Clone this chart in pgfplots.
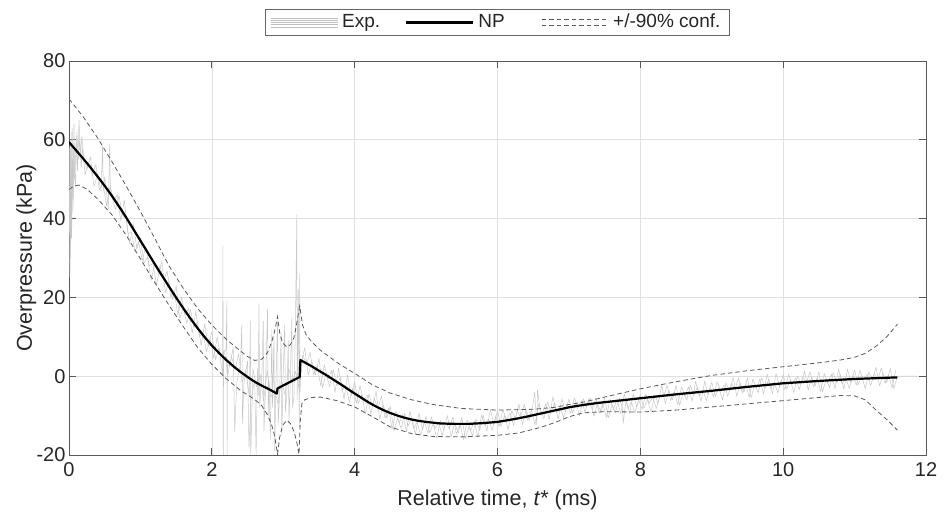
\documentclass[border=0pt]{standalone}
\usepackage{pgfplots}
\pgfplotsset{compat=1.18}
\usepackage{fontspec}
\setmainfont{Liberation Sans}
\begin{document}
\begin{tikzpicture}
\path[use as bounding box] (0,0) rectangle (944bp,514bp);
\begin{axis}[
  at={(69bp,59bp)}, anchor=south west,
  scale only axis, width=857bp, height=394bp,
  xmin=0, xmax=12, ymin=-20, ymax=80,
  xtick={0,2,4,6,8,10,12}, xticklabels={0,2,4,6,8,10,12},
  ytick={-20,0,20,40,60,80}, yticklabels={-20,0,20,40,60,80},
  tick align=inside, major tick length=7bp,
  xtick pos=both, ytick pos=both,
  grid=major, major grid style={black!12, line width=0.6bp},
  axis line style={black!65, line width=0.8bp},
  every tick/.style={black!65, line width=0.8bp},
  tick label style={font=\fontsize{20bp}{24bp}\selectfont, text=black!85},
  xticklabel style={yshift=-4bp},
  xlabel={Relative time, \textit{t}* (ms)},
  ylabel={Overpressure (kPa)},
  label style={font=\fontsize{21.5bp}{26bp}\selectfont, text=black!85},
  xlabel style={at={(axis description cs:0.5,-0.1294)}, anchor=base},
  ylabel style={at={(axis description cs:-0.0432,0.5)}, anchor=base, rotate=0},
  legend columns=3,
  legend image code/.code={\draw[#1] (0bp,0bp) -- (67bp,0bp);},
  legend style={at={(0.5,1)}, anchor=south, yshift=25bp,
    draw=black!60, line width=0.8bp, fill=white,
    inner xsep=5bp, inner ysep=4bp, column sep=0bp,
    font=\fontsize{19bp}{22bp}\selectfont,
    nodes={inner xsep=4bp, inner ysep=0bp, text height=14bp, text depth=4bp, text=black!85}},
  legend cell align=left,
  exp legend/.style={legend image code/.code={\foreach \yy in {-4.4,-2.2,0,2.2,4.4}{\draw[black!25, line width=0.6bp] (0bp,\yy bp) -- (67bp,\yy bp);}}},
  conf legend/.style={legend image code/.code={\draw[black!65, line width=0.8bp, dash pattern=on 4.5bp off 3bp] (0bp,3bp) -- (67bp,3bp); \draw[black!65, line width=0.8bp, dash pattern=on 4.5bp off 3bp] (0bp,-3bp) -- (67bp,-3bp);}},
]
% Experimental trace A
\addplot[black!22, line width=0.5bp, line join=round, exp legend]
coordinates {
(0.00,25) (0.01,58) (0.02,30) (0.03,62) (0.04,38) (0.05,55) (0.06,45) (0.07,64) (0.08,50) (0.10,60) (0.12,52) (0.14,65) (0.16,56) (0.18,61)
(0.20,56.4) (0.25,52.5) (0.30,55.7) (0.35,48.1) (0.40,51.2) (0.45,47.0) (0.47,58.5) (0.48,47.0) (0.50,50.6) (0.55,42.5) (0.57,59) (0.58,46) (0.60,45.6)
(0.65,42.3) (0.70,45.8) (0.75,40.8) (0.80,40.1) (0.85,33.6) (0.90,38.7) (0.95,32.5) (1.00,35.1) (1.05,28.7) (1.10,30.2) (1.15,24.3) (1.20,28.5)
(1.25,26.3) (1.30,29.2) (1.35,21.2) (1.40,24.0) (1.45,19.5) (1.50,22.9) (1.55,14.6) (1.60,17.4) (1.65,13.4) (1.70,17.0) (1.75,12.3) (1.80,13.8)
(1.85,7.7) (1.90,13.3) (1.95,7.6) (2.00,11.3) (2.05,4.2) (2.10,7.1) (2.15,0.6) (2.155,33) (2.16,-20) (2.165,6) (2.20,6.8) (2.21,19) (2.215,-20) (2.22,3)
(2.25,2.6) (2.30,7.2) (2.32,-14) (2.35,-1.6) (2.40,2.9) (2.42,13) (2.43,-12) (2.45,-1.6) (2.50,3.8) (2.52,-18) (2.55,-5.6) (2.60,-1.0) (2.62,-20) (2.64,2)
(2.65,-4.9) (2.66,18.5) (2.67,-8) (2.70,0.8) (2.72,14) (2.73,-14) (2.75,-4.0) (2.78,17) (2.79,-10) (2.80,-1.1) (2.82,-16) (2.84,12) (2.85,-7.9) (2.87,10) (2.88,-19)
(2.90,0.1) (2.92,14) (2.93,-12) (2.95,-4.3) (2.97,11) (2.98,-15) (3.00,1.3) (3.02,13) (3.03,-9) (3.05,-4.5) (3.07,9) (3.08,-12) (3.10,-0.1) (3.12,15) (3.13,-8)
(3.15,-5.3) (3.17,12) (3.19,41) (3.195,-6) (3.20,2.2) (3.21,22) (3.225,-13) (3.23,26) (3.235,-4) (3.25,3.4) (3.30,7.2)
(3.35,0.2) (3.40,3.9) (3.45,0.3) (3.50,4.5) (3.55,-3.0) (3.60,0.7) (3.65,-2.7) (3.70,1.7) (3.75,-2.4) (3.80,-0.2) (3.85,-5.8) (3.90,0.3) (3.95,-5.0)
(4.00,-1.5) (4.05,-7.0) (4.10,-4.6) (4.15,-9.6) (4.20,-4.5) (4.25,-7.8) (4.30,-3.9) (4.35,-10.9) (4.40,-7.2) (4.45,-10.6) (4.50,-7.7) (4.55,-13.9)
(4.60,-10.7) (4.65,-13.3) (4.70,-9.4) (4.75,-12.6) (4.80,-10.5) (4.85,-14.9) (4.90,-9.4) (4.95,-13.5) (5.00,-10.2) (5.05,-14.4) (5.10,-12.0) (5.15,-15.8)
(5.20,-11.2) (5.25,-13.6) (5.30,-10.0) (5.35,-15.4) (5.40,-11.9) (5.45,-14.5) (5.50,-10.5) (5.55,-15.9) (5.60,-12.8) (5.65,-15.1) (5.70,-10.9) (5.75,-13.8)
(5.80,-9.9) (5.85,-14.0) (5.90,-8.4) (5.95,-12.2) (6.00,-8.7) (6.05,-12.7) (6.10,-10.0) (6.15,-13.6) (6.20,-8.7) (6.25,-10.8) (6.30,-7.1) (6.35,-12.3)
(6.40,-8.6) (6.45,-11.0) (6.50,-6.8) (6.52,-4.0) (6.55,-12.4) (6.56,-3.5) (6.60,-8.7) (6.65,-10.8) (6.70,-6.5) (6.75,-9.2) (6.80,-6.7) (6.85,-10.9)
(6.90,-5.7) (6.95,-9.0) (7.00,-5.8) (7.05,-9.3) (7.10,-6.9) (7.15,-10.1) (7.20,-5.7) (7.25,-7.7) (7.30,-5.5) (7.35,-10.2) (7.40,-6.9) (7.45,-9.2)
(7.50,-5.5) (7.55,-10.6) (7.60,-7.3) (7.65,-9.3) (7.70,-5.5) (7.75,-8.0) (7.76,-12) (7.80,-5.9) (7.85,-9.5) (7.90,-4.4) (7.95,-7.8) (8.00,-4.6)
(8.05,-8.2) (8.10,-5.9) (8.15,-9.1) (8.20,-4.8) (8.25,-6.8) (8.30,-2.2) (8.35,-7.0) (8.40,-3.7) (8.45,-6.0) (8.50,-2.3) (8.55,-7.4) (8.60,-4.1)
(8.65,-6.1) (8.70,-2.3) (8.75,-4.8) (8.80,-2.7) (8.85,-6.4) (8.90,-1.3) (8.95,-4.7) (9.00,-1.5) (9.05,-5.1) (9.10,-2.8) (9.15,-6.0) (9.20,-1.7)
(9.25,-3.7) (9.30,-0.3) (9.35,-5.1) (9.40,-1.8) (9.45,-4.1) (9.50,-0.4) (9.55,-5.5) (9.60,-2.2) (9.65,-4.2) (9.70,-0.4) (9.75,-3.0) (9.80,-0.8)
(9.85,-4.5) (9.90,0.7) (9.95,-2.8) (10.00,0.4) (10.05,-3.3) (10.10,-1.0) (10.15,-4.2) (10.20,0.1) (10.25,-2.0) (10.30,1.3) (10.35,-3.5) (10.40,-0.2)
(10.45,-2.5) (10.50,1.1) (10.55,-4.0) (10.60,-0.9) (10.65,-2.9) (10.70,0.9) (10.75,-1.7) (10.80,0.5) (10.85,-3.3) (10.90,1.8) (10.95,-1.7) (11.00,1.5)
(11.05,-2.2) (11.10,0.1) (11.15,-3.2) (11.20,1.1) (11.25,-1.0) (11.30,2.3) (11.35,-2.5) (11.40,0.7) (11.45,-1.7) (11.50,2.0) (11.55,-3.2) (11.60,0) (11.88,0)
};
\addlegendentry{\makebox[59bp][l]{Exp.}}
% Experimental trace B
\addplot[black!22, line width=0.5bp, line join=round, forget plot] coordinates {
(0.005,48) (0.015,26) (0.025,60) (0.035,35) (0.045,63) (0.055,42) (0.065,57) (0.09,48) (0.11,62) (0.13,55) (0.15,60) (0.17,53) (0.19,58)
(0.225,51.1) (0.275,54.2) (0.325,51.1) (0.375,53.7) (0.425,47.3) (0.475,49.2) (0.525,43.3) (0.575,48.2) (0.625,44.6) (0.675,46.0) (0.725,39.5)
(0.775,44.8) (0.825,36.1) (0.875,36.6) (0.925,31.4) (0.975,34.2) (1.025,29.3) (1.075,32.9) (1.125,28.0) (1.175,28.6) (1.225,23.1) (1.275,27.9)
(1.325,24.3) (1.375,26.7) (1.425,20.0) (1.475,21.6) (1.525,15.5) (1.575,20.1) (1.625,15.6) (1.675,17.1) (1.725,10.9) (1.775,16.3) (1.825,10.0)
(1.875,11.0) (1.925,6.2) (1.975,9.45) (2.025,4.55) (2.075,9.95) (2.125,4.85) (2.175,6.5) (2.225,0.55) (2.275,5.05) (2.325,1.75) (2.375,5.7)
(2.425,-1.6) (2.475,1.55) (2.525,-5.0) (2.54,14) (2.545,-20) (2.575,1.9) (2.625,-2.7) (2.675,0.45) (2.725,-6.35) (2.775,1.6) (2.825,-5.35)
(2.875,-3.3) (2.925,-6.9) (2.975,-1.1) (3.025,-4.8) (3.075,2.0) (3.125,-1.75) (3.175,1.25) (3.225,-3.45) (3.275,5.4) (3.325,2.9) (3.375,6.1)
(3.425,0.3) (3.475,2.8) (3.525,-2.5) (3.575,2.95) (3.625,-0.85) (3.675,1.45) (3.725,-4.1) (3.775,2.0) (3.825,-3.75) (3.875,-2.3) (3.925,-6.6)
(3.975,-2.9) (4.025,-6.85) (4.075,-2.4) (4.125,-6.3) (4.175,-4.85) (4.225,-9.5) (4.275,-5.7) (4.325,-8.25) (4.375,-5.0) (4.425,-10.7) (4.475,-8.0)
(4.525,-13.5) (4.575,-8.8) (4.625,-11.8) (4.675,-9.7) (4.725,-14.1) (4.775,-8.8) (4.825,-13.3) (4.875,-11.7) (4.925,-15.0) (4.975,-11.5)
(5.025,-14.45) (5.075,-10.35) (5.125,-13.25) (5.175,-11.65) (5.225,-15.1) (5.275,-11.7) (5.325,-13.4) (5.375,-10.3) (5.425,-14.7) (5.475,-12.2)
(5.525,-16.1) (5.575,-11.1) (5.625,-13.8) (5.675,-11.3) (5.725,-15.5) (5.775,-9.8) (5.825,-12.55) (5.875,-10.8) (5.925,-13.8) (5.975,-10.15)
(6.025,-12.8) (6.075,-8.5) (6.125,-11.1) (6.175,-9.3) (6.225,-12.5) (6.275,-8.8) (6.325,-10.4) (6.375,-7.1) (6.425,-11.3) (6.475,-8.6)
(6.525,-12.3) (6.575,-7.1) (6.625,-9.6) (6.675,-7.0) (6.725,-11.0) (6.775,-5.2) (6.825,-9.3) (6.875,-7.95) (6.925,-10.5) (6.975,-7.1)
(7.025,-9.4) (7.075,-5.5) (7.125,-7.9) (7.175,-6.2) (7.225,-9.1) (7.275,-5.8) (7.325,-8.5) (7.375,-5.6) (7.425,-9.4) (7.475,-7.0)
(7.525,-10.45) (7.575,-5.85) (7.625,-8.2) (7.675,-5.9) (7.725,-9.6) (7.775,-4.5) (7.825,-8.2) (7.875,-6.6) (7.925,-9.3) (7.975,-6.0)
(8.025,-8.4) (8.075,-4.5) (8.125,-6.9) (8.175,-5.3) (8.225,-8.2) (8.275,-5.0) (8.325,-5.2) (8.375,-2.3) (8.425,-6.2) (8.475,-3.85)
(8.525,-7.25) (8.575,-2.65) (8.625,-5.0) (8.675,-2.7) (8.725,-6.4) (8.775,-1.3) (8.825,-5.1) (8.875,-3.45) (8.925,-6.2) (8.975,-2.85)
(9.025,-5.3) (9.075,-1.4) (9.125,-3.8) (9.175,-2.2) (9.225,-5.1) (9.275,-1.9) (9.325,-3.3) (9.375,-0.4) (9.425,-4.3) (9.475,-1.95)
(9.525,-5.35) (9.575,-0.75) (9.625,-3.1) (9.675,-0.8) (9.725,-4.55) (9.775,0.6) (9.825,-3.2) (9.875,-1.55) (9.925,-4.25) (9.975,-0.95)
(10.025,-3.4) (10.075,0.45) (10.125,-2.0) (10.175,-0.4) (10.225,-3.4) (10.275,-0.2) (10.325,-1.7) (10.375,1.15) (10.425,-2.75) (10.475,-0.4)
(10.525,-3.85) (10.575,0.7) (10.625,-1.7) (10.675,0.55) (10.725,-3.2) (10.775,1.9) (10.825,-1.9) (10.875,-0.35) (10.925,-3.1) (10.975,0.2)
(11.025,-2.3) (11.075,1.5) (11.125,-0.95) (11.175,0.55) (11.225,-2.45) (11.275,0.75) (11.325,-0.8) (11.375,2.1) (11.425,-1.85) (11.475,0.45)
(11.525,-3.0) (11.575,1.5)
};
% NP model
\addplot[black, line width=2.2bp, line join=round] coordinates {
(0,59.4)(0.1,57.3)(0.2,55.2)(0.3,53.0)(0.4,50.7)(0.5,48.3)(0.6,45.8)(0.7,43.1)(0.8,40.3)(0.9,37.35)(1.0,34.4)(1.1,31.45)(1.2,28.5)
(1.3,25.6)(1.4,22.75)(1.5,19.95)(1.6,17.25)(1.7,14.65)(1.8,12.2)(1.9,9.9)(2.0,7.8)(2.1,5.9)(2.2,4.15)(2.3,2.55)(2.4,1.1)(2.5,-0.2)(2.6,-1.4)
(2.7,-2.4)(2.8,-3.3)(2.91,-4.4)(2.92,-3.1)(3.23,-0.2)(3.24,4.1)(3.3,3.5)(3.4,2.5)(3.5,1.4)(3.6,0.3)(3.7,-0.85)(3.8,-2.0)(3.9,-3.2)(4.0,-4.4)
(4.1,-5.55)(4.2,-6.7)(4.3,-7.7)(4.4,-8.6)(4.5,-9.35)(4.6,-10.0)(4.7,-10.55)(4.8,-11.0)(4.9,-11.35)(5.0,-11.6)(5.2,-12.0)(5.4,-12.1)(5.6,-12.1)
(5.8,-11.9)(6.0,-11.6)(6.2,-11.0)(6.4,-10.3)(6.6,-9.5)(6.8,-8.7)(7.0,-7.9)(7.2,-7.3)(7.4,-6.8)(7.6,-6.4)(7.8,-6.0)(8.0,-5.6)(8.5,-4.6)
(9.0,-3.7)(9.5,-2.7)(10.0,-1.8)(10.5,-1.2)(11.0,-0.7)(11.3,-0.5)(11.6,-0.3)
};
\addlegendentry{\makebox[59bp][l]{NP}}
% upper 90% bound
\addplot[black!65, line width=0.8bp, dash pattern=on 4.5bp off 3bp, conf legend] coordinates {
(0,70.4)(0.2,65.8)(0.4,60.5)(0.6,54.5)(0.8,48.3)(1.0,41.8)(1.2,35.0)(1.4,28.0)(1.6,22.3)(1.8,17.2)(2.0,13.0)(2.2,9.4)(2.4,6.4)(2.5,5.0)
(2.6,4.0)(2.7,4.3)(2.78,6.0)(2.84,8.8)(2.88,11.5)(2.92,15.1)(2.95,11.0)(2.99,8.5)(3.05,7.4)(3.1,8.0)(3.15,9.8)(3.19,13.5)(3.23,17.8)
(3.27,13.0)(3.32,10.5)(3.4,8.7)(3.52,6.6)(3.75,3.5)(4.0,0.7)(4.25,-2.2)(4.5,-4.3)(4.8,-6.0)(5.1,-7.2)(5.5,-8.2)(6.0,-8.6)(6.5,-8.4)
(6.8,-7.9)(7.0,-7.2)(7.2,-6.6)(7.5,-5.3)(8.0,-3.2)(8.5,-1.4)(9.0,0.2)(9.5,1.4)(10.0,2.4)(10.5,3.4)(10.8,4.1)(11.0,4.8)(11.15,5.8)
(11.3,7.6)(11.45,10.0)(11.6,13.2)
};
\addlegendentry{+/-90\% conf.}
% lower 90% bound
\addplot[black!65, line width=0.8bp, dash pattern=on 4.5bp off 3bp, forget plot] coordinates {
(0,47.4)(0.07,48.3)(0.14,48.5)(0.25,47.5)(0.4,45.0)(0.6,41.0)(0.8,35.8)(1.0,29.8)(1.2,23.8)(1.4,18.0)(1.6,12.6)(1.8,7.3)(2.0,3.0)
(2.2,-0.6)(2.4,-3.6)(2.6,-5.9)(2.7,-7.5)(2.78,-9.8)(2.84,-12.5)(2.88,-15.2)(2.92,-19.8)(2.95,-15.5)(2.99,-12.5)(3.05,-11.2)(3.1,-12.0)
(3.15,-14.0)(3.19,-16.8)(3.22,-19.8)(3.24,-11.0)(3.26,-7.0)(3.3,-6.0)(3.4,-5.4)(3.52,-5.3)(3.75,-6.2)(4.0,-7.8)(4.25,-10.3)(4.5,-12.9)
(4.8,-14.6)(5.1,-15.3)(5.5,-15.4)(6.0,-15.0)(6.3,-14.4)(6.6,-13.0)(6.8,-11.8)(7.0,-10.3)(7.2,-9.3)(7.5,-9.0)(8.0,-9.1)(8.5,-8.6)
(9.0,-7.8)(9.5,-7.0)(10.0,-6.2)(10.5,-5.4)(10.8,-4.9)(11.0,-5.0)(11.15,-6.0)(11.3,-8.6)(11.45,-11.0)(11.6,-13.7)
};
\end{axis}
\end{tikzpicture}
\end{document}
